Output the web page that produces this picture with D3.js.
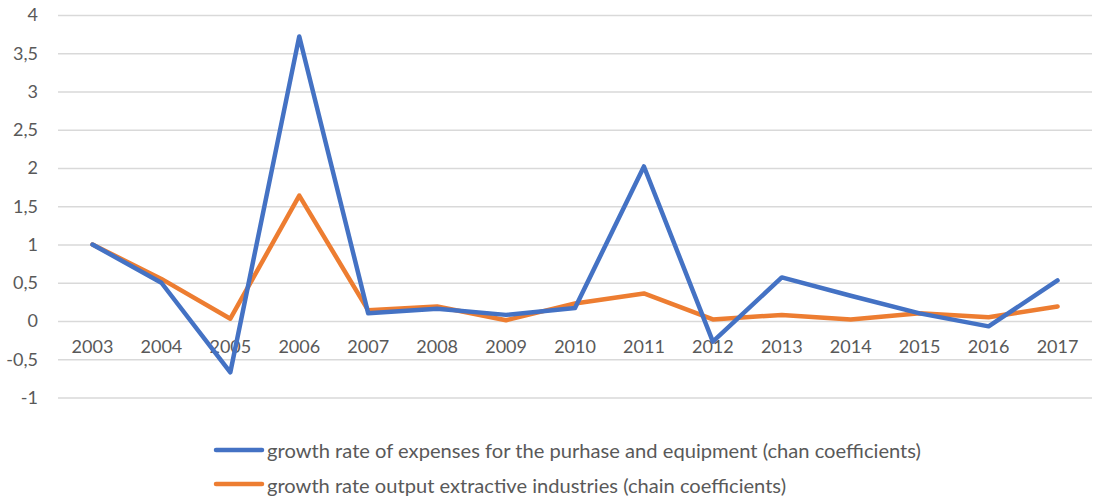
<!DOCTYPE html>
<html>
<head>
<meta charset="utf-8">
<script src="https://cdn.jsdelivr.net/npm/d3@7"></script>
<style>
  html, body { margin: 0; padding: 0; background: #fff; }
  svg { display: block; }
  text { font-family: Lato, "Open Sans", sans-serif; fill: #595959; }
</style>
</head>
<body>
<svg id="chart" width="1099" height="496"></svg>
<script>
const years = ["2003","2004","2005","2006","2007","2008","2009","2010","2011","2012","2013","2014","2015","2016","2017"];
const expensesGrowth = [1.0, 0.5, -0.67, 3.72, 0.10, 0.16, 0.08, 0.17, 2.02, -0.27, 0.57, 0.33, 0.10, -0.07, 0.53];
const outputGrowth = [1.0, 0.55, 0.03, 1.64, 0.14, 0.19, 0.01, 0.23, 0.36, 0.02, 0.08, 0.02, 0.10, 0.05, 0.19];
const yTicks = [-1, -0.5, 0, 0.5, 1, 1.5, 2, 2.5, 3, 3.5, 4];
const seriesNames = [
  "growth rate of expenses for the purhase and equipment (chan coefficients)",
  "growth rate output extractive industries (chain coefficients)"
];
const seriesColors = ["#4472C4", "#ED7D31"];

const svg = d3.select("#chart");
const x = d3.scaleBand().domain(years).range([58, 1092]);
const y = d3.scaleLinear().domain([-1, 4]).range([397.5, 15]);
const fmt = v => String(v).replace(".", ",");

// horizontal gridlines
svg.append("g")
  .attr("transform", "translate(58,0)")
  .call(d3.axisLeft(y).tickValues(yTicks).tickSize(-1034).tickFormat(""))
  .call(g => g.select(".domain").remove())
  .call(g => g.selectAll("line").attr("stroke", "#d9d9d9").attr("stroke-width", 1.5));

// value axis labels
svg.append("g")
  .attr("transform", "translate(58,0)")
  .call(d3.axisLeft(y).tickValues(yTicks).tickSize(0).tickPadding(20).tickFormat(fmt))
  .call(g => g.select(".domain").remove())
  .call(g => g.selectAll("text").attr("font-size", 18).attr("fill", "#595959")
    .style("font-family", "Lato, sans-serif"));

// category labels sit just under the zero line
svg.append("g")
  .attr("transform", `translate(0,${y(0)})`)
  .call(d3.axisBottom(x).tickSize(0).tickPadding(19))
  .call(g => g.select(".domain").remove())
  .call(g => g.selectAll("text").attr("font-size", 18).attr("fill", "#595959")
    .style("font-family", "Lato, sans-serif"));

const line = d3.line()
  .x((d, i) => x(years[i]) + x.bandwidth() / 2)
  .y(d => y(d));

// orange first, blue on top
[[outputGrowth, seriesColors[1]], [expensesGrowth, seriesColors[0]]].forEach(([vals, color]) => {
  svg.append("path")
    .datum(vals)
    .attr("d", line)
    .attr("fill", "none")
    .attr("stroke", color)
    .attr("stroke-width", 4.5)
    .attr("stroke-linejoin", "round")
    .attr("stroke-linecap", "round");
});

// legend
const legendRows = [
  { baseline: 458, lineY: 450, width: 654 },
  { baseline: 493, lineY: 484, width: 519 }
];
const legend = svg.append("g");
seriesNames.forEach((name, i) => {
  const r = legendRows[i];
  legend.append("line")
    .attr("x1", 216).attr("x2", 262)
    .attr("y1", r.lineY).attr("y2", r.lineY)
    .attr("stroke", seriesColors[i]).attr("stroke-width", 4.5)
    .attr("stroke-linecap", "round");
  legend.append("text")
    .attr("x", 267).attr("y", r.baseline)
    .attr("font-size", 20)
    .attr("textLength", r.width)
    .attr("lengthAdjust", "spacingAndGlyphs")
    .text(name);
});
</script>
</body>
</html>
